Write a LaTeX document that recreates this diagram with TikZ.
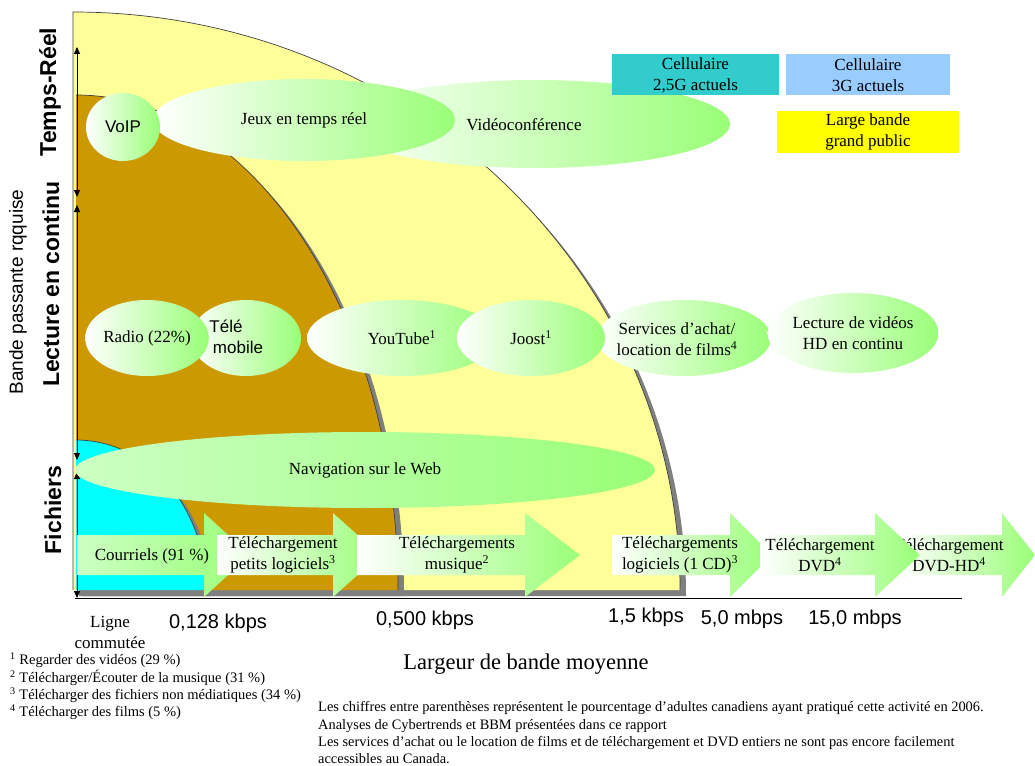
\documentclass[tikz,border=0pt]{standalone}
\usepackage{fontspec}
\setmainfont{Liberation Serif}
\setsansfont{Liberation Sans}
\usetikzlibrary{shapes.geometric,arrows.meta}
\definecolor{ylw}{HTML}{FFFF99}
\definecolor{brn}{HTML}{CC9900}
\definecolor{cyn}{HTML}{00FFFF}
\definecolor{shd}{HTML}{7F7F7F}
\definecolor{agreen}{HTML}{99FF77}
\definecolor{lgreen}{HTML}{CCFFC4}
\definecolor{teala}{HTML}{33CCCC}
\definecolor{bluea}{HTML}{99CCFF}
\definecolor{yela}{HTML}{FFFF00}
\newcommand{\szL}{\fontsize{17}{21}\selectfont}
\newcommand{\szS}{\fontsize{14.5}{17}\selectfont}
\newcommand{\szN}{\fontsize{14.4}{17}\selectfont}
\newcommand{\barrow}[4]{%
  \path[left color=#4, right color=agreen] (#1,535) -- (#2,535) -- (#2,513) -- (#3,555) -- (#2,597) -- (#2,575) -- (#1,575) -- cycle;}
\begin{document}
\begin{tikzpicture}[x=1pt,y=-1pt,
  bubble/.style={ellipse, inner sep=0pt, left color=white, right color=agreen, align=center, font=\szL},
  boxlbl/.style={rectangle, inner sep=0pt, align=center, font=\szL},
  arlbl/.style={inner sep=0pt, align=center, font=\szL},
  tick/.style={inner sep=0pt, font=\fontsize{20}{24}\selectfont\sffamily},
  cat/.style={rotate=90, inner sep=0pt, font=\fontsize{23}{26}\selectfont\sffamily\bfseries},
  note/.style={anchor=west, inner sep=0pt},
  edge/.style={draw=black!75, line width=0.7pt},
  axarrow/.style={line width=0.9pt, {Triangle[width=6pt,length=7pt]}-{Triangle[width=6pt,length=7pt]}}]
\useasboundingbox (0,0) rectangle (1035,765);
\fill[white] (0,0) rectangle (1035,765);

% regions with shadows
\fill[shd, shift={(6,6)}] (73,590) -- (73,12) arc[start angle=-90,end angle=0,x radius=607,y radius=578] -- cycle;
\fill[ylw] (73,590) -- (73,12) arc[start angle=-90,end angle=0,x radius=607,y radius=578] -- cycle;
\draw[edge] (73,590) -- (73,12) arc[start angle=-90,end angle=0,x radius=607,y radius=578];
\fill[shd, shift={(6,6)}] (76,590) -- (76,95) arc[start angle=-90,end angle=0,x radius=322,y radius=495] -- cycle;
\fill[brn] (76,590) -- (76,95) arc[start angle=-90,end angle=0,x radius=322,y radius=495] -- cycle;
\draw[edge] (76,95) arc[start angle=-90,end angle=0,x radius=322,y radius=495];
\fill[shd, shift={(6,6)}] (76,590) -- (76,440) arc[start angle=-90,end angle=0,x radius=130,y radius=150] -- cycle;
\fill[cyn] (76,590) -- (76,440) arc[start angle=-90,end angle=0,x radius=130,y radius=150] -- cycle;
\draw[edge] (76,440) arc[start angle=-90,end angle=0,x radius=130,y radius=150];

% axes
\coordinate (o) at (75,598);
\coordinate (xe) at (962,598);
\draw[line width=1pt] (o) -- (xe);
\coordinate (t1) at (77,47);
\coordinate (t2) at (77,197);
\coordinate (l1) at (77,205);
\coordinate (l2) at (77,460);
\coordinate (f1) at (77,472);
\coordinate (f2) at (77,598);
\draw[axarrow] (t1) -- (t2);
\draw[axarrow] (l1) -- (l2);
\draw[axarrow] (f1) -- (f2);

% bubbles
\node[bubble, minimum width=390pt, minimum height=88pt] (video) at (535,124) {};
\node[inner sep=0pt, font=\szL] (videot) at (524,125) {Vidéoconférence};
\node[bubble, minimum width=302pt, minimum height=82pt] (jeux) at (304,120) {Jeux en temps réel};
\node[bubble, minimum width=74pt, minimum height=68pt, font=\fontsize{17}{20}\selectfont\sffamily] (voip) at (123,127) {VoIP};
\node[bubble, minimum width=110pt, minimum height=76pt] (tele) at (246,338) {};
\node[inner sep=0pt, align=center, font=\fontsize{17}{21}\selectfont\sffamily] (telet) at (238,337) {\hspace*{-24pt}Télé\\mobile};
\node[bubble, minimum width=122pt, minimum height=76pt] (radio) at (147,338) {Radio (22\%)};
\node[bubble, minimum width=190pt, minimum height=76pt] (youtube) at (402,338) {YouTube\textsuperscript{1}};
\node[bubble, minimum width=174pt, minimum height=76pt] (services) at (684,338) {};
\node[inner sep=0pt, align=center, font=\szL] (servicest) at (677,339) {Services d’achat/\\location de films\textsuperscript{4}};
\node[bubble, minimum width=148pt, minimum height=76pt] (joost) at (531,338) {Joost\textsuperscript{1}};
\node[bubble, minimum width=166pt, minimum height=80pt] (hd) at (853,333) {Lecture de vidéos\\HD en continu};
\node[bubble, left color=lgreen, minimum width=580pt, minimum height=76pt] (nav) at (365,470) {Navigation sur le Web};

% boxes
\node[boxlbl, fill=teala, minimum width=167pt, minimum height=41pt] (c25) at (695.5,75) {Cellulaire\\2,5G actuels};
\node[boxlbl, fill=bluea, minimum width=164pt, minimum height=41pt] (c3g) at (868,75) {Cellulaire\\3G actuels};
\node[boxlbl, fill=yela, minimum width=182pt, minimum height=42pt] (lb) at (868,132) {Large bande\\grand public};

% block arrows
\barrow{77}{204}{250}{lgreen}
\node[arlbl] (a1) at (152,556) {Courriels (91 \%)};
\barrow{217}{333}{380}{white}
\node[arlbl] (a2) at (283,555) {Téléchargement\\petits logiciels\textsuperscript{3}};
\barrow{357}{525}{580}{white}
\node[arlbl] (a3) at (457,555) {Téléchargements\\musique\textsuperscript{2}};
\barrow{612}{730}{772}{white}
\node[arlbl] (a4) at (680,555) {Téléchargements\\logiciels (1 CD)\textsuperscript{3}};
\barrow{899}{1002}{1035}{white}
\node[arlbl] (a6) at (949,555) {Téléchargement\\DVD-HD\textsuperscript{4}};
\barrow{760}{875}{920}{white}
\node[arlbl] (a5) at (820,555) {Téléchargement\\DVD\textsuperscript{4}};

% axis category labels
\node[cat] (tr) at (50,92) {Temps-Réel};
\node[cat] (lc) at (51,284) {Lecture en continu};
\node[cat] (fi) at (53,510) {Fichiers};
\node[rotate=90, inner sep=0pt, font=\fontsize{19}{23}\selectfont\sffamily] (bp) at (18,292) {Bande passante rqquise};

% x ticks
\node[arlbl] (ligne) at (110,632) {Ligne\\commutée};
\node[tick] (k1) at (218,623) {0,128 kbps};
\node[tick] (k2) at (425,620) {0,500 kbps};
\node[tick] (k3) at (646,617) {1,5 kbps};
\node[tick] (k4) at (742,619) {5,0 mbps};
\node[tick] (k5) at (855,619) {15,0 mbps};
\node[inner sep=0pt, font=\fontsize{22.5}{26}\selectfont] (xl) at (526,664) {Largeur de bande moyenne};

% footnotes
\node[note, font=\szS] (fn1) at (10,660) {\textsuperscript{1} Regarder des vidéos (29 \%)};
\node[note, font=\szS] (fn2) at (10,678) {\textsuperscript{2} Télécharger/Écouter de la musique (31 \%)};
\node[note, font=\szS] (fn3) at (10,695) {\textsuperscript{3} Télécharger des fichiers non médiatiques (34 \%)};
\node[note, font=\szS] (fn4) at (10,712) {\textsuperscript{4} Télécharger des films (5 \%)};

\node[note, font=\szN] (n1) at (318,708) {Les chiffres entre parenthèses représentent le pourcentage d’adultes canadiens ayant pratiqué cette activité en 2006.};
\node[note, font=\szN] (n2) at (318,726) {Analyses de Cybertrends et BBM présentées dans ce rapport};
\node[note, font=\szN] (n3) at (318,743) {Les services d’achat ou le location de films et de téléchargement et DVD entiers ne sont pas encore facilement};
\node[note, font=\szN] (n4) at (318,759) {accessibles au Canada.};
\end{tikzpicture}
\end{document}
